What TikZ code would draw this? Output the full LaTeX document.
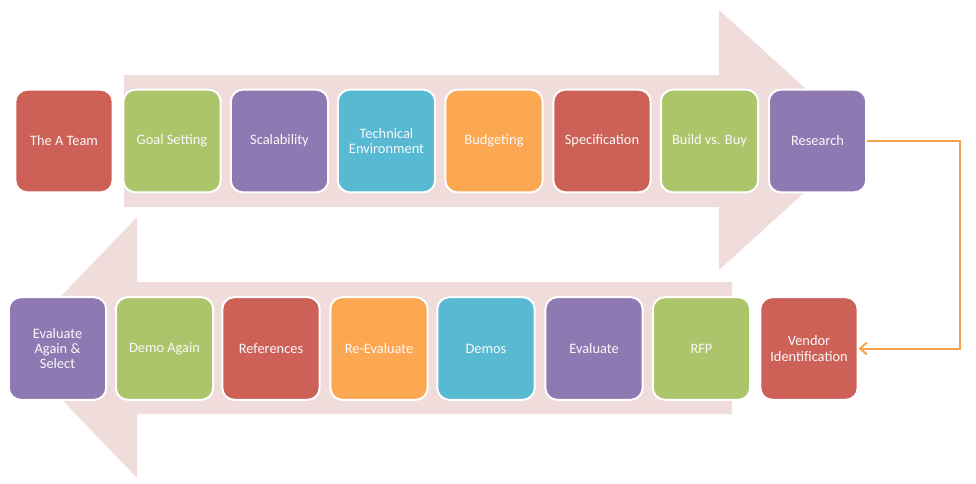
\documentclass[tikz,border=0pt]{standalone}
\usepackage{fontspec}
\setmainfont{Carlito}
\usetikzlibrary{arrows.meta}
\definecolor{tred}{HTML}{CD6158}
\definecolor{tgreen}{HTML}{ADC56A}
\definecolor{tpurple}{HTML}{8F79B3}
\definecolor{tteal}{HTML}{58B9D2}
\definecolor{torange}{HTML}{FCA852}
\definecolor{tpink}{HTML}{F1DCDC}
\definecolor{tline}{HTML}{F9A24D}
\tikzset{
  box/.style={draw=white, line width=1.5pt, rounded corners=9pt, align=center,
    minimum width=73pt, minimum height=77pt, text=white!95!gray,
    font=\fontsize{10.8}{11.5}\selectfont},
  band/.style={fill=tpink, draw=none},
  conn/.style={draw=tline, line width=1.5pt, -{Straight Barb[length=5pt,width=9pt]}}
}
\begin{document}
\begin{tikzpicture}[x=0.75pt,y=-0.75pt]
        \useasboundingbox (0,0) rectangle (976,483);

        % arrows behind
        \fill[band] (124,75) -- (719,75) -- (719,10) -- (862,140) -- (719,270) -- (719,207) -- (124,207) -- cycle;
        \fill[band] (732,282) -- (137,282) -- (137,217) -- (12,347.5) -- (137,478) -- (137,414) -- (732,414) -- cycle;

        % top row
        \node[box, fill=tred] (1) at (64,141) {The A Team};
        \node[box, fill=tgreen] (2) at (172,141) {Goal Setting};
        \node[box, fill=tpurple] (3) at (279.5,141) {Scalability};
        \node[box, fill=tteal] (4) at (386.5,141) {Technical\\Environment};
        \node[box, fill=torange] (5) at (494,141) {Budgeting};
        \node[box, fill=tred] (6) at (602,141) {Specification};
        \node[box, fill=tgreen] (7) at (709.5,141) {Build vs. Buy};
        \node[box, fill=tpurple] (8) at (817.5,141) {Research};

        % bottom row
        \node[box, fill=tred] (9) at (809,348.5) {Vendor\\Identification};
        \node[box, fill=tgreen] (10) at (701.5,348.5) {RFP};
        \node[box, fill=tpurple] (11) at (594,348.5) {Evaluate};
        \node[box, fill=tteal] (12) at (486,348.5) {Demos};
        \node[box, fill=torange] (13) at (379,348.5) {Re-Evaluate};
        \node[box, fill=tred] (14) at (271,348.5) {References};
        \node[box, fill=tgreen] (15) at (164.5,348.5) {Demo Again};
        \node[box, fill=tpurple] (16) at (57.5,348.5) {Evaluate\\Again \&\\Select};

        \coordinate (c) at (960,0);
        \draw[conn] (8.east) -- (8.east -| c) -- (c |- 9.east) -- (9.east);
      \end{tikzpicture}
\end{document}
